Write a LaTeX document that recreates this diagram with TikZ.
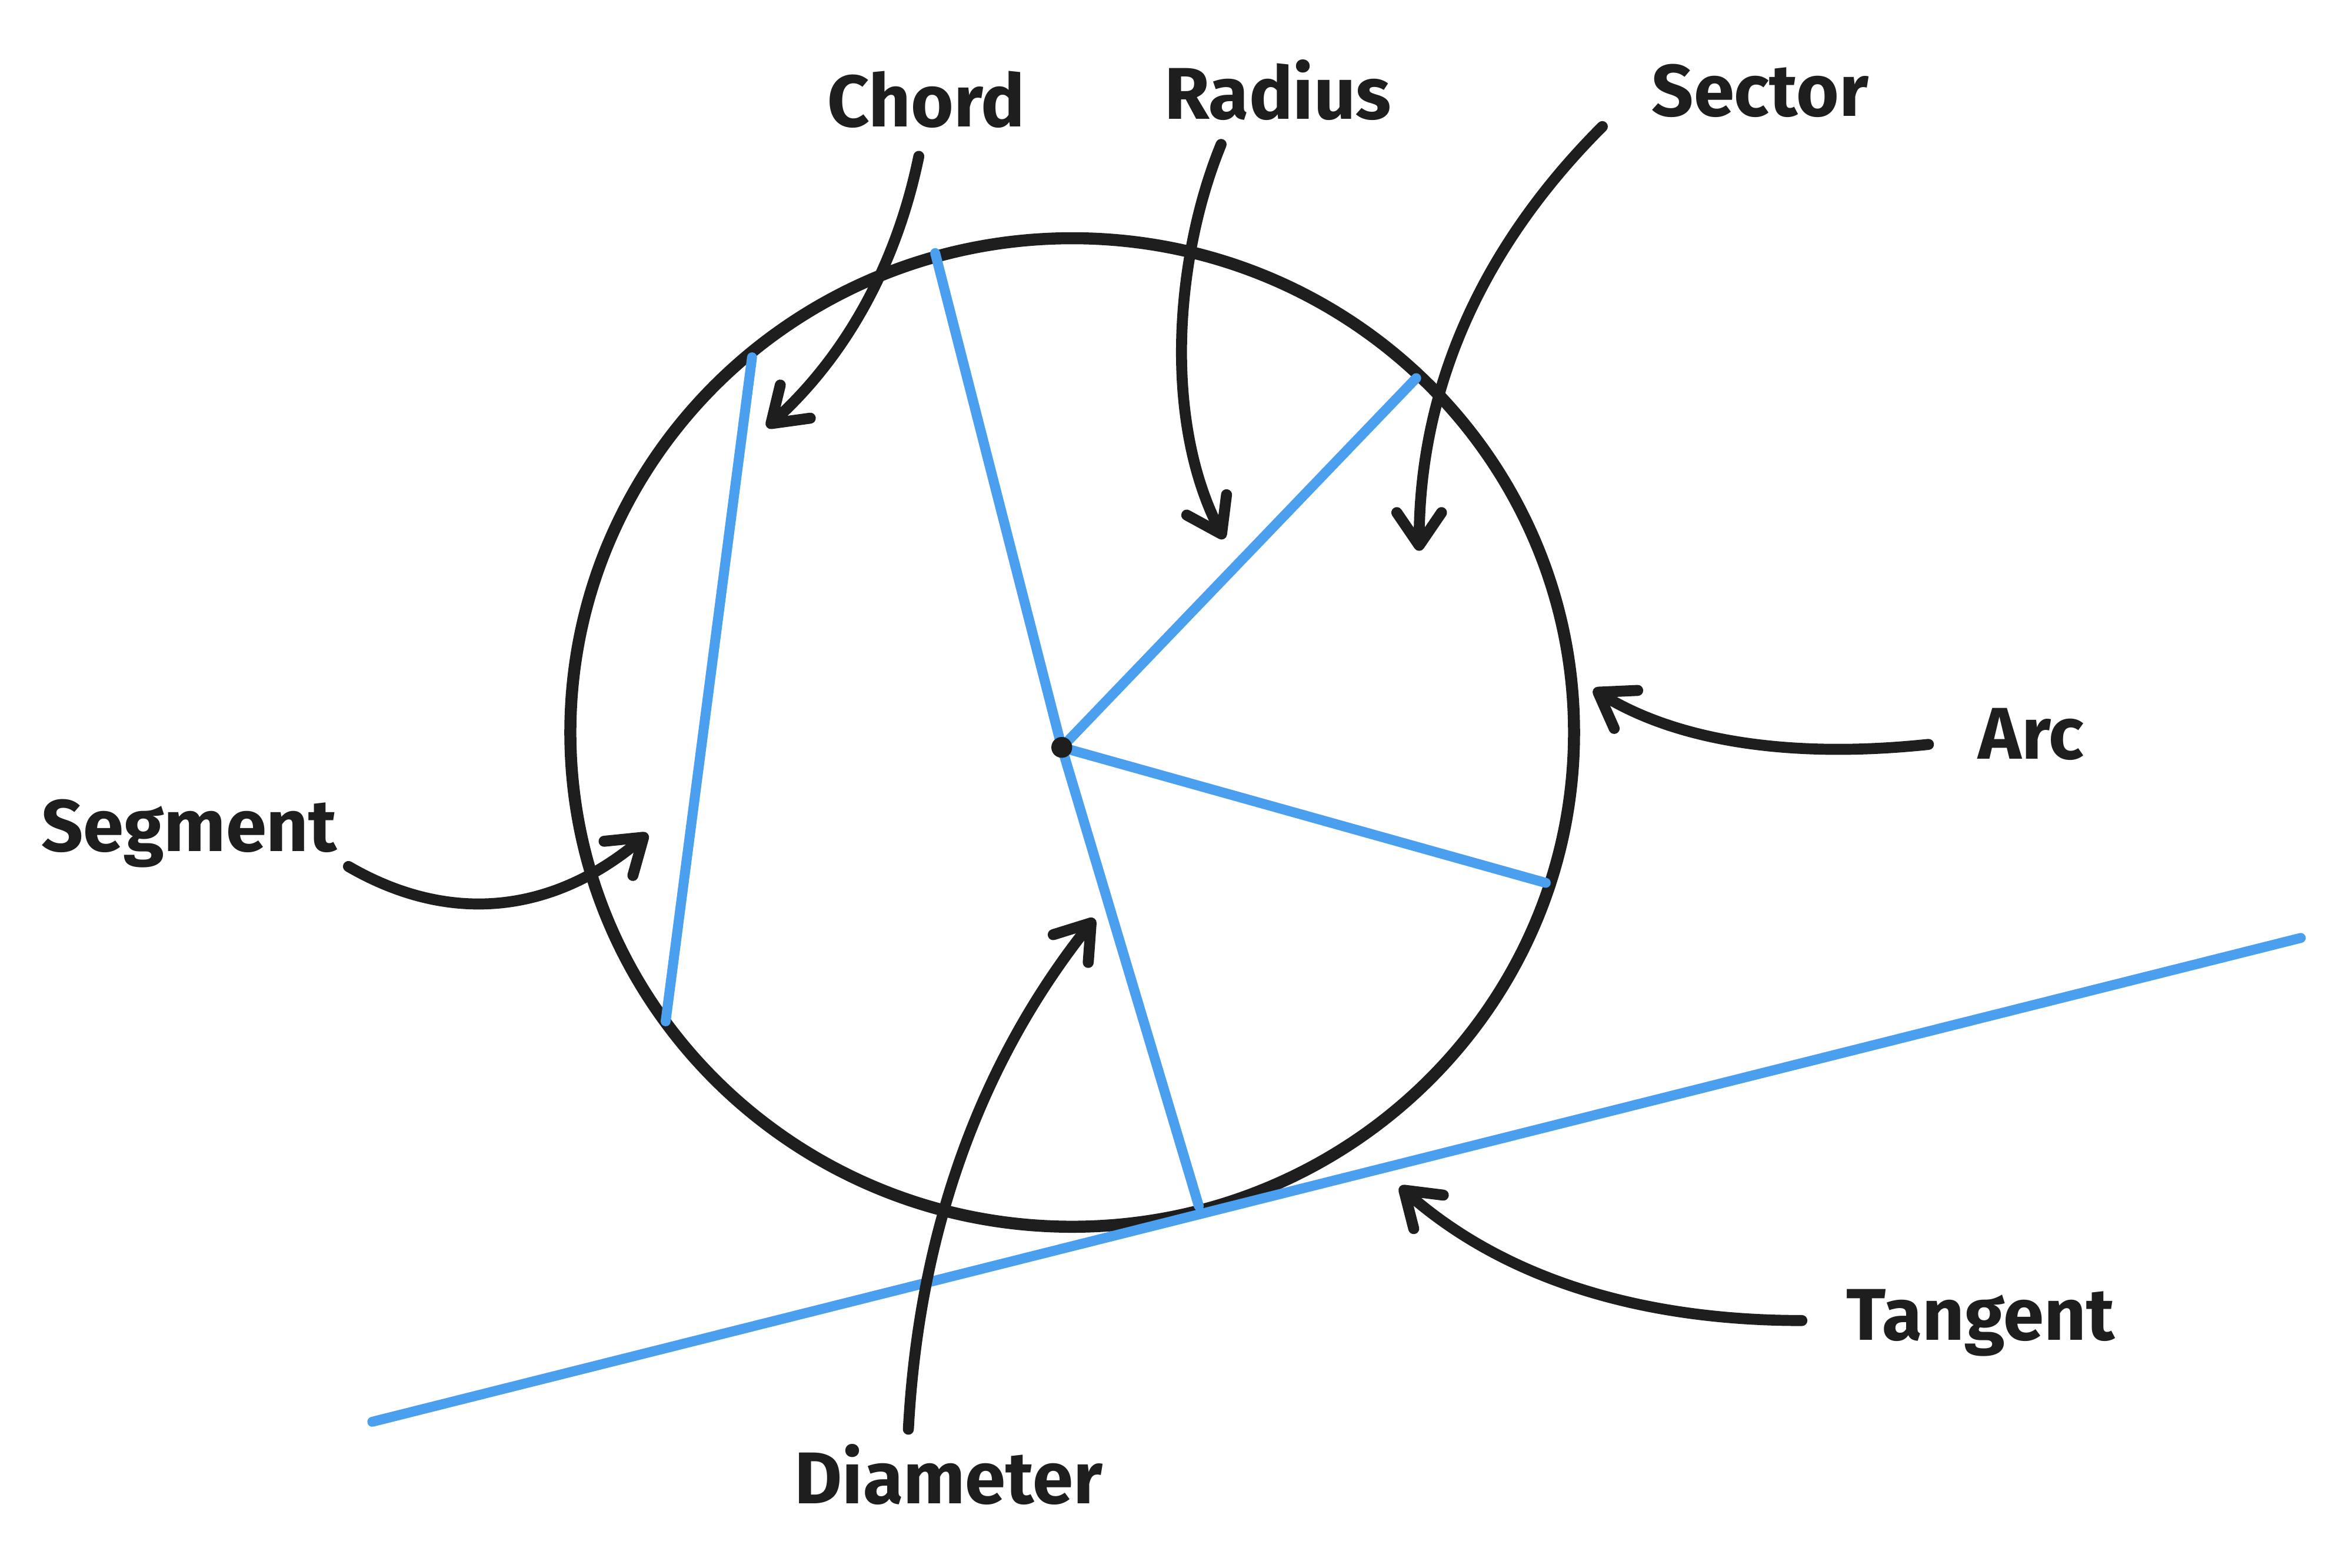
\documentclass[tikz,border=0pt]{standalone}
\usepackage{fontspec}
\setmainfont{Fira Sans}
\usetikzlibrary{arrows.meta}
\definecolor{ink}{HTML}{1E1E1E}
\definecolor{geo}{HTML}{4A9FEF}
\tikzset{
  lbl/.style={font=\fontsize{14}{16}\bfseries\selectfont, text=ink, anchor=base, inner sep=0pt},
  callout/.style={draw=ink, line width=2.1pt, line cap=round,
    -{Straight Barb[length=2.2mm,width=3mm,round]}},
  geoline/.style={draw=geo, line width=1.9pt, line cap=round},
  rim/.style={draw=ink, line width=2.3pt}
}
\begin{document}
\begin{tikzpicture}[x=0.01cm, y=-0.01cm]
\useasboundingbox (0,0) rectangle (1568,1053);
\fill[white] (0,0) rectangle (1568,1053);
% circle
\coordinate (O) at (720,492);
\draw[rim] (O) ellipse [x radius=337, y radius=332];
% geometry points
\coordinate (C) at (713,502);
\coordinate (dTop) at (628,170);
\coordinate (dBot) at (805,810);
\coordinate (rA) at (951,254);
\coordinate (rB) at (1038,593);
\coordinate (chA) at (505,240);
\coordinate (chB) at (447,686);
\coordinate (tA) at (250,955);
\coordinate (tB) at (1545,630);
\draw[geoline] (dTop) -- (C) -- (dBot);
\draw[geoline] (C) -- (rA);
\draw[geoline] (C) -- (rB);
\draw[geoline] (chA) -- (chB);
\draw[geoline] (tA) -- (tB);
\fill[ink] (C) circle[radius=7];
% labels
\node[lbl] (chord) at (622,85) {Chord};
\node[lbl] (radius) at (858,80) {Radius};
\node[lbl] (sector) at (1182,78) {Sector};
\node[lbl] (arc) at (1364,510) {Arc};
\node[lbl] (segment) at (127,572) {Segment};
\node[lbl] (diameter) at (637,1010) {Diameter};
\node[lbl] (tangent) at (1330,900) {Tangent};
% arrow ends
\coordinate (chordS) at (617,105);   \coordinate (chordE) at (515,287);
\coordinate (radiusS) at (820,97);   \coordinate (radiusE) at (822,362);
\coordinate (sectorS) at (1076,85);  \coordinate (sectorE) at (953,370);
\coordinate (arcS) at (1295,500);    \coordinate (arcE) at (1070,463);
\coordinate (segS) at (234,582);     \coordinate (segE) at (435,560);
\coordinate (diaS) at (610,960);     \coordinate (diaE) at (735,617);
\coordinate (tanS) at (1210,887);    \coordinate (tanE) at (940,797);
\draw[callout] (chordS) .. controls (602,178) and (568,239) .. (chordE);
\draw[callout] (radiusS) .. controls (790,170) and (780,280) .. (radiusE);
\draw[callout] (sectorS) .. controls (994,167) and (953,262) .. (sectorE);
\draw[callout] (arcS) .. controls (1200,510) and (1125,497) .. (arcE);
\draw[callout] (segS) .. controls (303,622) and (372,613) .. (segE);
\draw[callout] (diaS) .. controls (617,828) and (658,714) .. (diaE);
\draw[callout] (tanS) .. controls (1098,887) and (1008,857) .. (tanE);
\end{tikzpicture}
\end{document}
